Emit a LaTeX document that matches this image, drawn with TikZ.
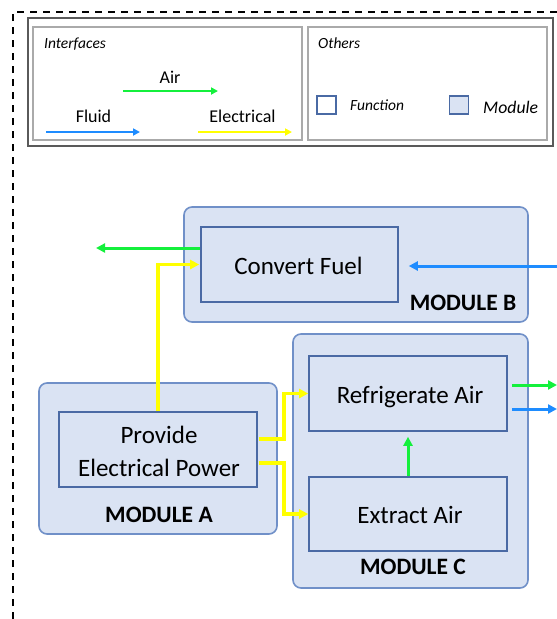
\documentclass[tikz,border=0pt]{standalone}
\usepackage{fontspec}
\setmainfont{Carlito}
\usetikzlibrary{arrows.meta,calc}
\definecolor{modfill}{RGB}{218,227,243}
\definecolor{modline}{RGB}{112,144,200}
\definecolor{fnline}{RGB}{74,106,164}
\definecolor{airc}{RGB}{20,240,60}
\definecolor{fluidc}{RGB}{30,140,255}
\definecolor{elecc}{RGB}{255,255,0}
\definecolor{legout}{RGB}{90,90,90}
\definecolor{legin}{RGB}{170,170,170}
\begin{document}
\begin{tikzpicture}[x=1pt,y=-1pt,
  module/.style={draw=modline,fill=modfill,line width=1.6pt,rounded corners=8pt,inner sep=0pt},
  fnbox/.style={draw=fnline,line width=1.6pt,inner sep=0pt},
  maintxt/.style={font=\fontsize{25}{30}\selectfont,inner sep=0pt,anchor=base},
  modtxt/.style={font=\bfseries\fontsize{23.5}{28}\selectfont,inner sep=0pt,anchor=base},
  conn/.style={line width=3pt,-{Triangle[length=9pt,width=9pt]}},
  air/.style={conn,draw=airc},
  fluid/.style={conn,draw=fluidc},
  elec/.style={conn,draw=elecc,line width=3.6pt},
  legarrow/.style={line width=2.4pt,-{Triangle[length=7pt,width=7pt]}},
  legtxt/.style={font=\fontsize{18}{22}\selectfont,inner sep=0pt,anchor=base},
  legit/.style={font=\itshape\fontsize{15.5}{19}\selectfont,inner sep=0pt,anchor=base west},
  outline/.style={line width=1.4pt,dash pattern=on 7pt off 6pt}
]
\useasboundingbox (0,0) rectangle (557,619);
% outer dashed frame
\draw[outline] (13,619) -- (13,12) -- (557,12);

% legend
\node[draw=legout,line width=1.6pt,minimum width=525pt,minimum height=128pt,inner sep=0pt] (legend) at (290.5,82) {};
\node[draw=legin,line width=1.2pt,minimum width=269pt,minimum height=113pt,inner sep=0pt] (legI) at (167.5,83.5) {};
\node[draw=legin,line width=1.2pt,minimum width=239pt,minimum height=113pt,inner sep=0pt] (legO) at (427.5,83.5) {};
\node[legit] (tInterfaces) at (44,48) {Interfaces};
\node[legit] (tOthers) at (318,48) {Others};
\node[legtxt] (tAir) at (170,83) {Air};
\coordinate (la1) at (123,91); \coordinate (la2) at (218,91);
\draw[legarrow,draw=airc] (la1) -- (la2);
\node[legtxt] (tFluid) at (93.5,122) {Fluid};
\coordinate (lf1) at (46,132); \coordinate (lf2) at (140,132);
\draw[legarrow,draw=fluidc] (lf1) -- (lf2);
\node[legtxt] (tElec) at (242.5,122) {Electrical};
\coordinate (le1) at (198,132); \coordinate (le2) at (292,132);
\draw[legarrow,draw=elecc,line width=2.8pt] (le1) -- (le2);
\node[draw=fnline,line width=1.3pt,minimum width=19pt,minimum height=18pt,inner sep=0pt] (sqF) at (326.5,105) {};
\node[legit] (tFunction) at (350,110) {Function};
\node[draw=fnline,fill=modfill,line width=1.3pt,minimum width=19pt,minimum height=18pt,inner sep=0pt] (sqM) at (459,105) {};
\node[legit,font=\itshape\fontsize{17.7}{21}\selectfont] (tModule) at (483,113) {Module};

% modules
\node[module,minimum width=344pt,minimum height=115pt] (modB) at (356,264.5) {};
\node[module,minimum width=238pt,minimum height=151pt] (modA) at (158,458.5) {};
\node[module,minimum width=235pt,minimum height=254pt] (modC) at (410.5,461) {};

% functions
\node[fnbox,minimum width=197pt,minimum height=75pt] (cf) at (299.5,264.5) {};
\node[fnbox,minimum width=198pt,minimum height=75pt] (pep) at (158,449.5) {};
\node[fnbox,minimum width=198pt,minimum height=75pt] (ra) at (408,393.5) {};
\node[fnbox,minimum width=198pt,minimum height=74pt] (ea) at (408,514) {};

% texts
\node[maintxt] (cft) at (298.5,274) {Convert Fuel};
\node[maintxt] (pept1) at (159,443) {Provide};
\node[maintxt] (pept2) at (159,476) {Electrical Power};
\node[maintxt] (rat) at (410,403) {Refrigerate Air};
\node[maintxt] (eat) at (410,523) {Extract Air};
\node[modtxt] (mBt) at (463,310) {MODULE B};
\node[modtxt] (mAt) at (159,522) {MODULE A};
\node[modtxt] (mCt) at (413,574) {MODULE C};

% connectors
\coordinate (fin) at (557,266);
\draw[fluid,shorten >=10pt] (fin) -- (fin -| cf.east);
\coordinate (aout) at (96,248);
\draw[air] (aout -| cf.west) -- (aout);
\draw[elec,shorten >=1pt] (pep.north) |- (cf.west);
\draw[elec] ($(pep.east)+(1,-10.5)$) -- ++(25,0) |- (ra.west);
\draw[elec] ($(pep.east)+(1,13.5)$) -- ++(25,0) |- (ea.west);
\draw[air,shorten >=5pt] (ea.north) -- (ra.south);
\coordinate (gout) at (557,385);
\coordinate (fout) at (557,409);
\draw[air,shorten <=4pt] (ra.east |- gout) -- (gout);
\draw[fluid,shorten <=4pt] (ra.east |- fout) -- (fout);
\end{tikzpicture}
\end{document}
